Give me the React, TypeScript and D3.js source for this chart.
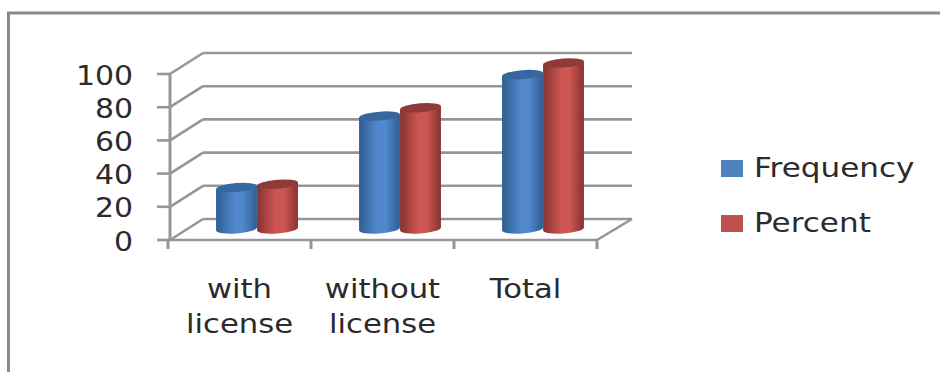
import React from "react";
import * as d3 from "d3";

// Chart values
const categories = [["with", "license"], ["without", "license"], ["Total"]];
const seriesNames = ["Frequency", "Percent"];
const frequency = [25, 68, 93];
const percent = [27, 73, 100];
const yTicks = [0, 20, 40, 60, 80, 100];

const frontY = d3.scaleLinear().domain([0, 100]).range([240, 74]);
const backY = d3.scaleLinear().domain([0, 100]).range([219, 53]);
const barY = d3.scaleLinear().domain([0, 100]).range([229, 63]);

const catIdx = categories.map((_, i) => i);
const band = d3.scaleBand<number>().domain(catIdx).range([168, 597]);
const DEPTH_X = 35;
const BAR_SHIFT = 17.5;
const BAR_W = 41;

const GRID = "#969696";
const TILT = -4.5;
const tiltRad = (TILT * Math.PI) / 180;

const palettes = [
  { id: "barBlue", edge: "#2f5d91", mid: "#5088cb", top: "#36689f", swatch: "#4f81bd" },
  { id: "barRed", edge: "#863331", mid: "#cd5653", top: "#8f3a38", swatch: "#c0504d" },
];

// Tilted cylinder: body path plus a darker elliptical cap
function Cylinder({ cx, topY, bottomY, rx, pal }: { cx: number; topY: number; bottomY: number; rx: number; pal: typeof palettes[number] }) {
  const ry = 4.5;
  const dx = rx * Math.cos(tiltRad);
  const dy = rx * Math.sin(tiltRad);
  const body = `M${cx - dx},${topY - dy} L${cx - dx},${bottomY - dy} A${rx},${ry} ${TILT} 0 0 ${cx + dx},${bottomY + dy} L${cx + dx},${topY + dy} Z`;
  return (
    <g>
      <path d={body} fill={`url(#${pal.id})`} />
      <ellipse cx={cx} cy={topY} rx={rx} ry={ry} fill={pal.top} transform={`rotate(${TILT} ${cx} ${topY})`} />
    </g>
  );
}

function Label({ x, y, anchor = "middle", sx = 1.15, children }: { x: number; y: number; anchor?: string; sx?: number; children: React.ReactNode }) {
  return (
    <text
      transform={`translate(${x},${y}) scale(${sx},1)`}
      textAnchor={anchor}
      fontFamily="'DejaVu Sans', sans-serif"
      fontSize={26}
      fill="#2b2b2b"
    >
      {children}
    </text>
  );
}

export default function App() {
  const floorLeft = band.range()[0];
  const floorRight = band.range()[1];
  const tickXs = [...catIdx.map((i) => band(i)!), floorRight];
  const rows = [frequency, percent];

  return (
    <svg width={940} height={372} style={{ position: "absolute", left: 0, top: 0, background: "#fff" }}>
      <defs>
        {palettes.map((p) => (
          <linearGradient key={p.id} id={p.id} x1="0" x2="1" y1="0" y2="0">
            <stop offset="0" stopColor={p.edge} />
            <stop offset="0.45" stopColor={p.mid} />
            <stop offset="0.65" stopColor={p.mid} />
            <stop offset="1" stopColor={p.edge} />
          </linearGradient>
        ))}
      </defs>

      {/* Outer frame: top and left edges */}
      <path d="M8.5,372 V13 H940" fill="none" stroke="#8a8a8a" strokeWidth={3} />

      {/* Back wall gridlines and side wall */}
      {yTicks.map((t) => (
        <g key={t} stroke={GRID} strokeWidth={2.6} fill="none">
          <line x1={floorLeft + DEPTH_X} x2={floorRight + DEPTH_X} y1={backY(t)} y2={backY(t)} />
          <line x1={floorLeft + 2} y1={frontY(t)} x2={floorLeft + DEPTH_X} y2={backY(t)} />
          <line x1={floorLeft - 11} x2={floorLeft + 2} y1={frontY(t)} y2={frontY(t)} />
        </g>
      ))}
      <line x1={floorLeft + 2} x2={floorLeft + 2} y1={frontY(100)} y2={frontY(0)} stroke={GRID} strokeWidth={3} />

      {/* Floor edges and category ticks */}
      <line x1={floorLeft} x2={floorRight} y1={frontY(0)} y2={frontY(0)} stroke={GRID} strokeWidth={2.6} />
      <line x1={floorRight} y1={frontY(0)} x2={floorRight + DEPTH_X} y2={backY(0)} stroke={GRID} strokeWidth={2.6} />
      {tickXs.map((x) => (
        <line key={x} x1={x} x2={x} y1={frontY(0)} y2={frontY(0) + 9} stroke={GRID} strokeWidth={3} />
      ))}

      {/* Cylinders, drawn series by series */}
      {catIdx.map((i) =>
        rows.map((vals, s) => {
          const cx = band(i)! + band.bandwidth() / 2 + BAR_SHIFT + (s === 0 ? -BAR_W / 2 : BAR_W / 2);
          return <Cylinder key={`${i}-${s}`} cx={cx} topY={barY(vals[i])} bottomY={barY(0)} rx={BAR_W / 2} pal={palettes[s]} />;
        })
      )}

      {/* Value axis labels */}
      {yTicks.map((t) => (
        <Label key={t} x={133} y={frontY(t) + 10.5} anchor="end">
          {t}
        </Label>
      ))}

      {/* Category labels */}
      {catIdx.map((i) =>
        categories[i].map((line, k) => (
          <Label key={line + i} x={band(i)! + band.bandwidth() / 2} y={298 + k * 35} sx={1.18}>
            {line}
          </Label>
        ))
      )}

      {/* Legend */}
      {seriesNames.map((name, s) => (
        <g key={name}>
          <rect x={721} y={160 + s * 55} width={22} height={17} fill={palettes[s].swatch} />
          <Label x={754} y={177 + s * 55} anchor="start" sx={1.195}>
            {name}
          </Label>
        </g>
      ))}
    </svg>
  );
}
